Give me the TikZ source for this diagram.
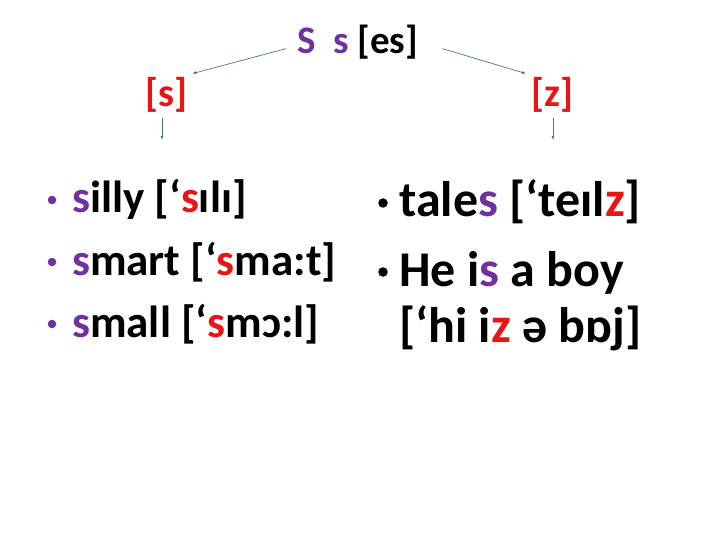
\documentclass[tikz,border=0pt]{standalone}
\usepackage{fontspec}
\setmainfont{Carlito}
\usetikzlibrary{arrows.meta}

\definecolor{purp}{RGB}{112,48,160}
\definecolor{ipared}{RGB}{235,20,20}
\definecolor{linkblue}{RGB}{75,115,150}
\newcommand{\ps}[1]{\textcolor{purp}{#1}}
\newcommand{\rs}[1]{\textcolor{ipared}{#1}}

\tikzset{
	txt/.style={inner sep=0pt,anchor=base west,font=\bfseries\fontsize{#1}{#1}\selectfont},
	link/.style={draw=linkblue,line width=0.7pt,-{Latex[length=4pt,width=3pt]}},
	dot/.style={circle,inner sep=0pt,minimum size=#1}
}

\begin{document}
\begin{tikzpicture}[x=1pt,y=-1pt]
	\useasboundingbox (0,0) rectangle (720,540);

	\node[txt=39] (title) at (297,54) {\ps{S}\ \ \ps{s} [es]};
	\node[txt=40,text=ipared] (sL) at (145,107) {[s]};
	\node[txt=40,text=ipared] (zR) at (531,107) {[z]};

	\coordinate (sEnd) at (162,140);
	\coordinate (zEnd) at (553,140);

	\draw[link] ([xshift=-11pt,yshift=-6pt]title.west) -- ([xshift=5pt,yshift=4pt]sL.north east);
	\draw[link] ([xshift=24pt,yshift=-6pt]title.east) -- ([xshift=-5pt,yshift=4pt]zR.north west);
	\draw[link] (sL.south -| sEnd) ++(0,5) -- (sEnd);
	\draw[link] (zR.south -| zEnd) ++(0,5) -- (zEnd);

	% left column
	\node[dot=8.5pt,fill=purp] (b1) at (52,200) {};
	\node[dot=8.5pt,fill=purp] (b2) at (52,262) {};
	\node[dot=8.5pt,fill=purp] (b3) at (52,324) {};
	\node[txt=45] (silly) at (72,213) {\ps{s}illy [‘\rs{s}ɪlɪ]};
	\node[txt=45] (smart) at (72,275) {\ps{s}mart [‘\rs{s}ma:t]};
	\node[txt=45] (small) at (72,337) {\ps{s}mall [‘\rs{s}mɔ:l]};

	% right column
	\node[dot=9.5pt,fill=black] (b4) at (383,203) {};
	\node[dot=9.5pt,fill=black] (b5) at (383,272) {};
	\node[txt=50] (tales) at (399,217) {tale\ps{s} [‘teɪl\rs{z}]};
	\node[txt=50] (boy) at (399,286) {He i\ps{s} a boy};
	\node[txt=50] (boyipa) at (399,342) {[‘hi i\rs{z} ə bɒj]};
\end{tikzpicture}
\end{document}
